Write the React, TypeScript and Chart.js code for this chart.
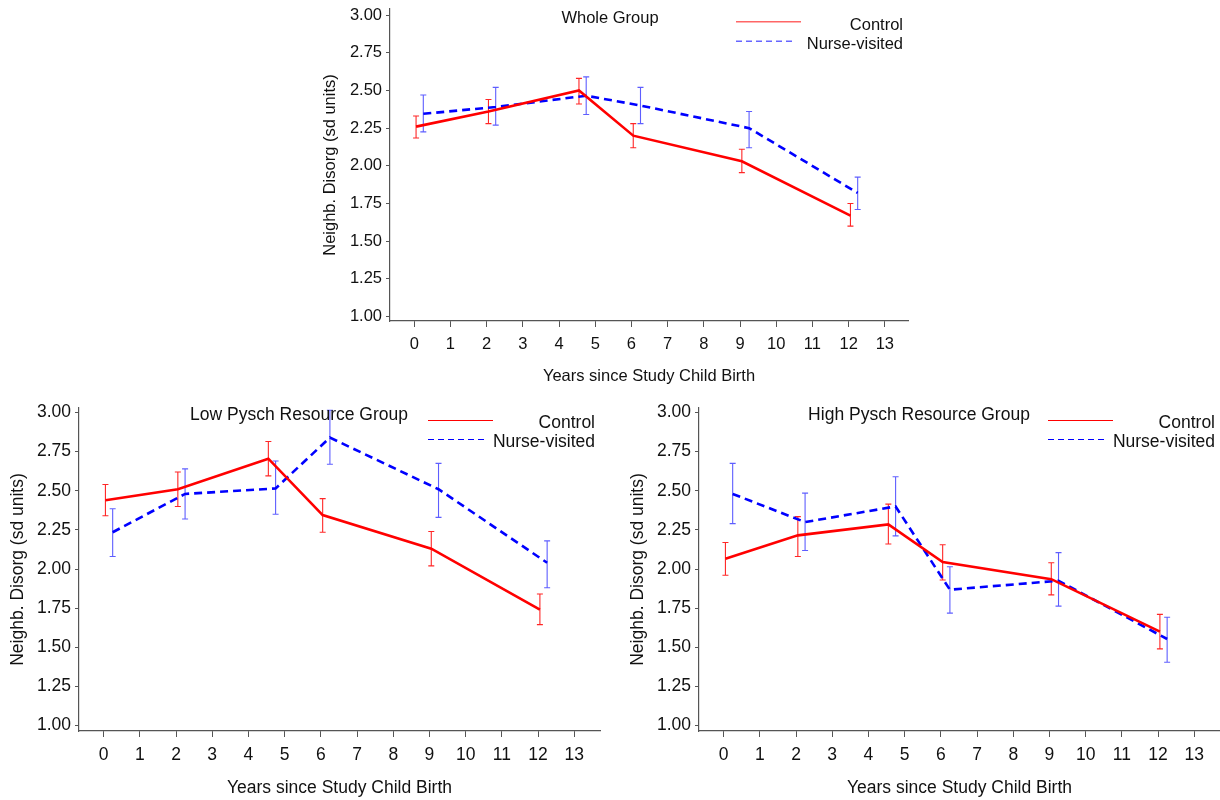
import React, { useEffect, useRef } from "react";
import { Chart, registerables } from "chart.js";

Chart.register(...registerables);

// ---------------- data ----------------
const xTickValues = [0, 1, 2, 3, 4, 5, 6, 7, 8, 9, 10, 11, 12, 13];
const yTickValues = [1.0, 1.25, 1.5, 1.75, 2.0, 2.25, 2.5, 2.75, 3.0];

const seriesNames = ["Control", "Nurse-visited"];
const panelTitles = ["Whole Group", "Low Pysch Resource Group", "High Pysch Resource Group"];
const yAxisTitle = "Neighb. Disorg (sd units)";
const xAxisTitle = "Years since Study Child Birth";

// measurement times (slightly offset per group, as in the source figure)
const controlYears = [0.05, 2.05, 4.55, 6.05, 9.05, 12.05];
const nurseYears = [0.25, 2.25, 4.75, 6.25, 9.25, 12.25];

// Whole group
const wholeControlMean = [2.26, 2.36, 2.5, 2.2, 2.03, 1.67];
const wholeControlLow = [2.185, 2.28, 2.41, 2.12, 1.955, 1.6];
const wholeControlHigh = [2.33, 2.44, 2.58, 2.28, 2.11, 1.75];
const wholeNurseMean = [2.345, 2.39, 2.465, 2.4, 2.25, 1.82];
const wholeNurseLow = [2.225, 2.27, 2.34, 2.28, 2.12, 1.71];
const wholeNurseHigh = [2.47, 2.52, 2.59, 2.52, 2.36, 1.925];

// Low psych resource group
const lowControlMean = [2.44, 2.51, 2.705, 2.345, 2.13, 1.74];
const lowControlLow = [2.34, 2.4, 2.595, 2.235, 2.02, 1.645];
const lowControlHigh = [2.54, 2.62, 2.815, 2.45, 2.24, 1.84];
const lowNurseMean = [2.235, 2.48, 2.515, 2.84, 2.51, 2.04];
const lowNurseLow = [2.08, 2.32, 2.35, 2.67, 2.33, 1.88];
const lowNurseHigh = [2.385, 2.64, 2.69, 3.015, 2.675, 2.18];

// High psych resource group
const highControlMean = [2.065, 2.215, 2.285, 2.045, 1.935, 1.6];
const highControlLow = [1.96, 2.08, 2.16, 1.93, 1.835, 1.49];
const highControlHigh = [2.17, 2.335, 2.415, 2.155, 2.04, 1.71];
const highNurseMean = [2.48, 2.3, 2.4, 1.868, 1.925, 1.553];
const highNurseLow = [2.29, 2.118, 2.212, 1.718, 1.763, 1.404];
const highNurseHigh = [2.675, 2.485, 2.59, 2.015, 2.105, 1.692];

// ---------------- styling ----------------
const FONT = '"Liberation Sans", Arial, Helvetica, sans-serif';
const RED = "#ff0000";
const BLUE = "#0000ff";
const AXIS = "#555555";
const TEXT = "#111111";

type Geo = {
  left: number;
  top: number;
  width: number;
  height: number;
  padRight: number;
  padTop: number;
  yAxisWidth: number;
  xAxisHeight: number;
  font: number;
  yTitlePad: number;
  xTitlePad: number;
  yMin: number;
  yMax: number;
  xMin: number;
  xMax: number;
  titleDy: number;
  legendRows: number[];
  legendTextRows: number[];
  legendAlpha: number;
};

type Series = { mean: number[]; low: number[]; high: number[] };

const topGeo: Geo = {
  left: 300,
  top: 0,
  width: 620,
  height: 395,
  padRight: 12,
  padTop: 9,
  yAxisWidth: 90,
  xAxisHeight: 74,
  font: 16.5,
  yTitlePad: 21,
  xTitlePad: 9,
  yMin: 0.971,
  yMax: 3.04,
  xMin: -0.67,
  xMax: 13.64,
  titleDy: 9,
  legendRows: [12.7, 32.3],
  legendTextRows: [16.5, 35.5],
  legendAlpha: 0.6,
};

const bottomLeftGeo: Geo = {
  left: 0,
  top: 395,
  width: 610,
  height: 405,
  padRight: 10,
  padTop: 13,
  yAxisWidth: 79,
  xAxisHeight: 69,
  font: 17.5,
  yTitlePad: 8,
  xTitlePad: 1,
  yMin: 0.965,
  yMax: 3.029,
  xMin: -0.68,
  xMax: 13.71,
  titleDy: 7,
  legendRows: [12.5, 31.5],
  legendTextRows: [15, 34],
  legendAlpha: 1,
};

const bottomRightGeo: Geo = { ...bottomLeftGeo, left: 620, width: 600, padRight: 0 };

function Panel(props: { geo: Geo; title: string; control: Series; nurse: Series }) {
  const ref = useRef<HTMLCanvasElement | null>(null);
  const { geo, title, control, nurse } = props;

  useEffect(() => {
    if (!ref.current) return;

    const errorSets = [
      { years: controlYears, s: control, color: "rgba(255,0,0,0.85)" },
      { years: nurseYears, s: nurse, color: "rgba(40,40,255,0.75)" },
    ];

    const overlay = {
      id: "overlay",
      beforeDatasetsDraw(chart: any) {
        const ctx = chart.ctx;
        const xs = chart.scales.x;
        const ys = chart.scales.y;
        ctx.save();
        ctx.lineWidth = 1.1;
        errorSets.forEach(({ years, s, color }) => {
          ctx.strokeStyle = color;
          years.forEach((yr, i) => {
            const px = xs.getPixelForValue(yr);
            const p1 = ys.getPixelForValue(s.low[i]);
            const p2 = ys.getPixelForValue(s.high[i]);
            ctx.beginPath();
            ctx.moveTo(px, p1);
            ctx.lineTo(px, p2);
            ctx.moveTo(px - 3, p1);
            ctx.lineTo(px + 3, p1);
            ctx.moveTo(px - 3, p2);
            ctx.lineTo(px + 3, p2);
            ctx.stroke();
          });
        });
        ctx.restore();
      },
      afterDraw(chart: any) {
        const ctx = chart.ctx;
        const area = chart.chartArea;
        ctx.save();
        ctx.fillStyle = TEXT;
        ctx.font = `${geo.font}px ${FONT}`;
        ctx.textBaseline = "middle";
        ctx.textAlign = "center";
        ctx.fillText(title, area.left + 220, area.top + geo.titleDy);

        const colors = [
          `rgba(255,0,0,${geo.legendAlpha})`,
          `rgba(0,0,255,${geo.legendAlpha})`,
        ];
        const dashes = [[], [6, 4]];
        const lineEnds = [107, 112];
        seriesNames.forEach((name, i) => {
          ctx.strokeStyle = colors[i];
          ctx.lineWidth = geo.legendAlpha < 1 ? 1.6 : 1.2;
          ctx.setLineDash(dashes[i]);
          ctx.beginPath();
          ctx.moveTo(area.right - 172, area.top + geo.legendRows[i]);
          ctx.lineTo(area.right - lineEnds[i], area.top + geo.legendRows[i]);
          ctx.stroke();
          ctx.setLineDash([]);
          ctx.textAlign = "right";
          ctx.fillStyle = TEXT;
          ctx.fillText(name, area.right - 5, area.top + geo.legendTextRows[i]);
        });
        ctx.restore();
      },
    };

    const chart = new Chart(ref.current, {
      type: "line",
      data: {
        datasets: [
          {
            label: seriesNames[0],
            data: controlYears.map((x, i) => ({ x, y: control.mean[i] })),
            borderColor: RED,
            borderWidth: 2.6,
            pointRadius: 0,
            tension: 0,
            fill: false,
          },
          {
            label: seriesNames[1],
            data: nurseYears.map((x, i) => ({ x, y: nurse.mean[i] })),
            borderColor: BLUE,
            borderWidth: 2.6,
            borderDash: [8, 5],
            pointRadius: 0,
            tension: 0,
            fill: false,
          },
        ],
      },
      options: {
        responsive: false,
        animation: false,
        events: [],
        layout: { padding: { left: 0, right: geo.padRight, top: geo.padTop, bottom: 0 } },
        plugins: {
          legend: { display: false },
          tooltip: { enabled: false },
          title: { display: false },
        },
        scales: {
          x: {
            type: "linear",
            min: geo.xMin,
            max: geo.xMax,
            bounds: "data",
            afterBuildTicks: (scale: any) => {
              scale.ticks = xTickValues.map((v) => ({ value: v }));
            },
            afterFit: (scale: any) => {
              scale.height = geo.xAxisHeight;
              scale.paddingLeft = 0;
              scale.paddingRight = 0;
            },
            ticks: {
              autoSkip: false,
              maxRotation: 0,
              padding: 8,
              color: TEXT,
              font: { family: FONT, size: geo.font },
              callback: (v: any) => String(v),
            },
            grid: {
              display: true,
              drawOnChartArea: false,
              drawTicks: true,
              tickLength: 6,
              color: AXIS,
            },
            border: { display: true, color: AXIS, width: 1.2 },
            title: {
              display: true,
              text: xAxisTitle,
              color: TEXT,
              font: { family: FONT, size: geo.font },
              padding: { top: 0, bottom: geo.xTitlePad },
            },
          },
          y: {
            type: "linear",
            min: geo.yMin,
            max: geo.yMax,
            bounds: "data",
            afterBuildTicks: (scale: any) => {
              scale.ticks = yTickValues.map((v) => ({ value: v }));
            },
            afterFit: (scale: any) => {
              scale.width = geo.yAxisWidth;
              scale.paddingTop = 0;
              scale.paddingBottom = 0;
            },
            ticks: {
              autoSkip: false,
              padding: 4,
              color: TEXT,
              font: { family: FONT, size: geo.font },
              callback: (v: any) => Number(v).toFixed(2),
            },
            grid: {
              display: true,
              drawOnChartArea: false,
              drawTicks: true,
              tickLength: 4,
              color: AXIS,
            },
            border: { display: true, color: AXIS, width: 1.2 },
            title: {
              display: true,
              text: yAxisTitle,
              color: TEXT,
              font: { family: FONT, size: geo.font },
              padding: { top: geo.yTitlePad, bottom: 0 },
            },
          },
        },
      },
      plugins: [overlay],
    } as any);

    return () => chart.destroy();
  }, [geo, title, control, nurse]);

  return (
    <div
      style={{
        position: "absolute",
        left: geo.left,
        top: geo.top,
        width: geo.width,
        height: geo.height,
      }}
    >
      <canvas
        ref={ref}
        width={geo.width}
        height={geo.height}
        style={{ width: geo.width, height: geo.height, display: "block" }}
      />
    </div>
  );
}

const wholeControl: Series = { mean: wholeControlMean, low: wholeControlLow, high: wholeControlHigh };
const wholeNurse: Series = { mean: wholeNurseMean, low: wholeNurseLow, high: wholeNurseHigh };
const lowControl: Series = { mean: lowControlMean, low: lowControlLow, high: lowControlHigh };
const lowNurse: Series = { mean: lowNurseMean, low: lowNurseLow, high: lowNurseHigh };
const highControl: Series = { mean: highControlMean, low: highControlLow, high: highControlHigh };
const highNurse: Series = { mean: highNurseMean, low: highNurseLow, high: highNurseHigh };

export default function App() {
  return (
    <div
      style={{
        position: "fixed",
        left: 0,
        top: 0,
        width: 1220,
        height: 800,
        background: "#ffffff",
        overflow: "hidden",
      }}
    >
      <Panel geo={topGeo} title={panelTitles[0]} control={wholeControl} nurse={wholeNurse} />
      <Panel geo={bottomLeftGeo} title={panelTitles[1]} control={lowControl} nurse={lowNurse} />
      <Panel geo={bottomRightGeo} title={panelTitles[2]} control={highControl} nurse={highNurse} />
    </div>
  );
}
